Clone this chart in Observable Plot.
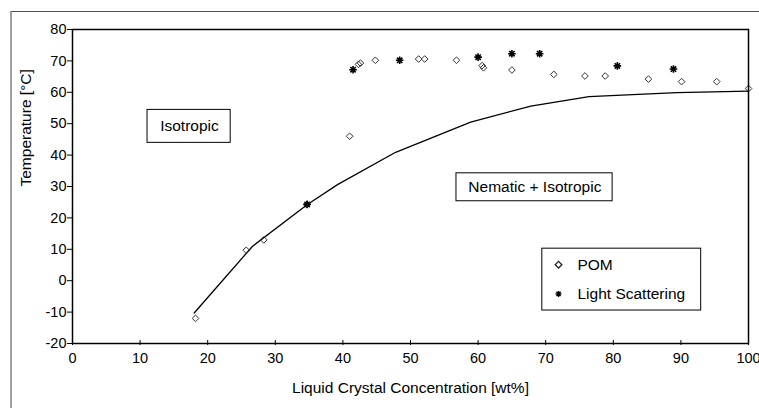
<!DOCTYPE html>
<html>
<head>
<meta charset="utf-8">
<script src="https://cdn.jsdelivr.net/npm/d3@7"></script>
<script src="https://cdn.jsdelivr.net/npm/@observablehq/plot@0.6"></script>
<style>
  body { margin: 0; background: white; }
  #wrap { position: relative; width: 759px; height: 408px; overflow: hidden; }
  #frame { position: absolute; left: 10px; top: 11px; width: 800px; height: 500px;
           border-left: 2px solid #a0a0a0; border-top: 1px solid #505050; pointer-events: none; }
  #wrap svg g[aria-label$="tick label"] { font-size: 14.5px !important; }
  #wrap svg g[aria-label$="tick label"] text { font-size: 14.5px !important; }
</style>
</head>
<body>
<div id="wrap"></div>
<script>
// POM measurements
const pomX = [18.2, 25.7, 28.3, 34.7, 41.0, 42.3, 42.6, 44.8, 51.2, 52.1, 56.8, 60.6, 60.8, 65.0, 71.2, 75.8, 78.8, 85.2, 90.1, 95.3, 100];
const pomY = [-12.0, 9.7, 13.0, 24.3, 46.0, 68.9, 69.3, 70.2, 70.6, 70.6, 70.2, 68.5, 67.8, 67.1, 65.7, 65.2, 65.2, 64.2, 63.4, 63.4, 61.2];
// Light scattering measurements
const lsX = [34.7, 41.5, 48.4, 60.0, 65.0, 69.1, 80.6, 88.9];
const lsY = [24.3, 67.2, 70.2, 71.2, 72.3, 72.3, 68.4, 67.4];
// Phase boundary line
const lineX = [18.0, 26.6, 34.7, 39.2, 47.8, 58.9, 67.8, 76.4, 89.4, 100];
const lineY = [-10.3, 10.9, 24.2, 30.6, 40.9, 50.5, 55.6, 58.6, 59.9, 60.4];
// Ticks
const xTicks = [0, 10, 20, 30, 40, 50, 60, 70, 80, 90, 100];
const yTicks = [-20, -10, 0, 10, 20, 30, 40, 50, 60, 70, 80];
// Region labels (data coordinates)
const regionLabels = ["Isotropic", "Nematic + Isotropic"];
const regionX = [17.3, 68.4];
const regionY = [49.2, 29.8];
const regionX1 = [11.1, 56.8];
const regionX2 = [23.4, 79.9];
const regionY1 = [43.9, 25.3];
const regionY2 = [54.4, 34.2];
// Legend
const legendLabels = ["POM", "Light Scattering"];

const pom = pomX.map((x, i) => ({x, y: pomY[i]}));
const ls = lsX.map((x, i) => ({x, y: lsY[i]}));
const line = lineX.map((x, i) => ({x, y: lineY[i]}));
const regions = regionLabels.map((t, i) => ({t, x: regionX[i], y: regionY[i], x1: regionX1[i], x2: regionX2[i], y1: regionY1[i], y2: regionY2[i]}));

const star = {
  draw(ctx, size) {
    const r = Math.sqrt(size / Math.PI);
    for (let i = 0; i < 4; i++) {
      const a = i * Math.PI / 4;
      ctx.moveTo(r * Math.cos(a), r * Math.sin(a));
      ctx.lineTo(-r * Math.cos(a), -r * Math.sin(a));
    }
  }
};

// legend placement in data units
const legBox = [{x1: 69.5, x2: 93.0, y1: -9.5, y2: 10.2}];
const legItems = [{t: legendLabels[0], x: 71.9, tx: 74.7, y: 5.1}, {t: legendLabels[1], x: 71.9, tx: 74.7, y: -4.2}];

const font = "'Liberation Sans', Arial, sans-serif";

const chart = Plot.plot({
  width: 759,
  height: 408,
  marginLeft: 72,
  marginRight: 11,
  marginTop: 29,
  marginBottom: 65,
  style: {fontFamily: font, fontSize: "14px", color: "black", background: "white"},
  x: {domain: [0, 100]},
  y: {domain: [-20, 80]},
  marks: [
    Plot.line(line, {x: "x", y: "y", stroke: "black", strokeWidth: 1.3}),
    Plot.dot(pom, {x: "x", y: "y", symbol: "diamond2", r: 3, stroke: "#333", strokeWidth: 1, fill: "none"}),
    Plot.dot(ls, {x: "x", y: "y", symbol: star, r: 3.8, stroke: "black", strokeWidth: 1.6, fill: "none"}),
    Plot.rect(regions, {x1: "x1", x2: "x2", y1: "y1", y2: "y2", fill: "white", stroke: "black", strokeWidth: 1}),
    Plot.text(regions, {x: "x", y: "y", text: "t", fontSize: 15.5, fill: "black"}),
    Plot.rect(legBox, {x1: "x1", x2: "x2", y1: "y1", y2: "y2", fill: "white", stroke: "black", strokeWidth: 1}),
    Plot.dot(legItems.slice(0, 1), {x: "x", y: "y", symbol: "diamond2", r: 3, stroke: "#222", strokeWidth: 1.3, fill: "none"}),
    Plot.dot(legItems.slice(1), {x: "x", y: "y", symbol: star, r: 3, stroke: "black", strokeWidth: 1.4, fill: "none"}),
    Plot.text(legItems, {x: "tx", y: "y", text: "t", textAnchor: "start", fontSize: 15.5, fill: "black"}),
    Plot.frame({stroke: "black", strokeWidth: 1.5}),
    Plot.axisY({ticks: yTicks, tickSize: 5, tickPadding: 1, tickFormat: d => String(d), label: null, fontSize: 14.5}),
    Plot.axisX({ticks: xTicks, tickSize: 5, dy: -3, tickPadding: 7, tickFormat: d => String(d), label: null, fontSize: 14.5}),
    Plot.text(["Temperature [°C]"], {frameAnchor: "left", dx: -46, rotate: -90, fontSize: 15.5, fill: "black"}),
    Plot.text(["Liquid Crystal Concentration [wt%]"], {frameAnchor: "bottom", dy: 49, fontSize: 15.5, fill: "black"})
  ]
});

const wrap = document.getElementById("wrap");
wrap.appendChild(chart);
const fr = document.createElement("div");
fr.id = "frame";
wrap.appendChild(fr);
</script>
</body>
</html>
